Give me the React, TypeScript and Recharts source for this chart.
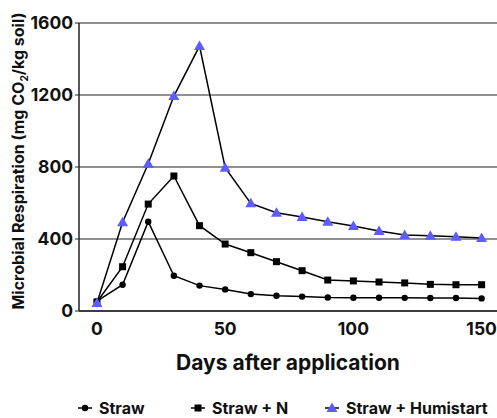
import { LineChart, Line, XAxis, YAxis, CartesianGrid, Legend } from "recharts";

const days = [0, 10, 20, 30, 40, 50, 60, 70, 80, 90, 100, 110, 120, 130, 140, 150];
const straw = [55, 146, 496, 196, 141, 120, 94, 85, 80, 75, 74, 74, 73, 72, 72, 70];
const strawN = [50, 246, 594, 750, 474, 372, 324, 274, 224, 172, 167, 161, 156, 148, 146, 146];
const strawHumistart = [45, 493, 818, 1194, 1472, 796, 598, 546, 522, 496, 472, 444, 422, 418, 413, 406];
const xTicks = [0, 50, 100, 150];
const yTicks = [0, 400, 800, 1200, 1600];

const data = days.map((d, i) => ({
  day: d,
  straw: straw[i],
  strawN: strawN[i],
  strawH: strawHumistart[i],
}));

const FONT = "Inter, Lato, sans-serif";
const BLUE = "#5c5cff";

const Circle = (p: any) => <circle cx={p.cx} cy={p.cy} r={3.2} fill="#000" />;
const Square = (p: any) => <rect x={p.cx - 3.5} y={p.cy - 3.5} width={7} height={7} fill="#000" />;
const Tri = (p: any) => (
  <polygon points={`${p.cx},${p.cy - 5.5} ${p.cx - 5.5},${p.cy + 4} ${p.cx + 5.5},${p.cy + 4}`} fill={BLUE} />
);

const YLabel = () => (
  <text
    transform="translate(24,161) rotate(-90)"
    textAnchor="middle"
    fontFamily={FONT}
    fontWeight={700}
    fontSize={16}
    fill="#111"
  >
    Microbial Respiration (mg CO
    <tspan fontSize={10} dy={4}>2</tspan>
    <tspan dy={-4}>/kg soil)</tspan>
  </text>
);

const LegendContent = () => {
  const item = (icon: any, label: string, left: number) => (
    <div style={{ position: "absolute", left, top: 0, height: 18, display: "flex", alignItems: "center" }}>
      <svg width={16} height={16} style={{ marginRight: 6 }}>
        <line x1={1} y1={8} x2={15} y2={8} stroke="#000" strokeWidth={1.5} />
        {icon}
      </svg>
      <span style={{ lineHeight: "18px" }}>{label}</span>
    </div>
  );
  return (
    <div style={{ position: "relative", height: 18, fontFamily: FONT, fontWeight: 700, fontSize: 16, color: "#111" }}>
      {item(<circle cx={8} cy={8} r={3.2} fill="#000" />, "Straw", 77)}
      {item(<rect x={4.5} y={4.5} width={7} height={7} fill="#000" />, "Straw + N", 190)}
      {item(<polygon points="8,2.5 2.5,12 13.5,12" fill={BLUE} />, "Straw + Humistart", 324)}
    </div>
  );
};

export default function App() {
  return (
    <div style={{ position: "absolute", left: 0, top: 0, background: "#fff" }}>
      <LineChart width={497} height={418} data={data} margin={{ top: 23, right: 0, left: 0, bottom: 0 }}>
        <CartesianGrid vertical={false} stroke="#222" strokeWidth={1.2} />
        <XAxis
          dataKey="day"
          type="number"
          domain={[-7, 156]}
          ticks={xTicks}
          height={89}
          tickLine={false}
          axisLine={{ stroke: "#222", strokeWidth: 1.5 }}
          tick={{ fontFamily: FONT, fontWeight: 700, fontSize: 17.5, fill: "#111" }}
          tickMargin={6}
          label={{
            value: "Days after application",
            position: "insideTop",
            offset: 44,
            style: { fontFamily: FONT, fontWeight: 700, fontSize: 21, fill: "#111" },
          }}
        />
        <YAxis
          width={79}
          domain={[0, 1600]}
          ticks={yTicks}
          interval={0}
          tickSize={4}
          tickLine={{ stroke: "#222" }}
          axisLine={{ stroke: "#222", strokeWidth: 1.5 }}
          tick={{ fontFamily: FONT, fontWeight: 700, fontSize: 17.5, fill: "#111" }}
          label={<YLabel />}
        />
        <Legend
          verticalAlign="bottom"
          content={<LegendContent />}
          wrapperStyle={{ left: 0, top: 399, width: 497 }}
        />
        <Line dataKey="straw" stroke="#000" strokeWidth={1.5} dot={<Circle />} isAnimationActive={false} />
        <Line dataKey="strawN" stroke="#000" strokeWidth={1.5} dot={<Square />} isAnimationActive={false} />
        <Line dataKey="strawH" stroke="#000" strokeWidth={1.5} dot={<Tri />} isAnimationActive={false} />
      </LineChart>
    </div>
  );
}
